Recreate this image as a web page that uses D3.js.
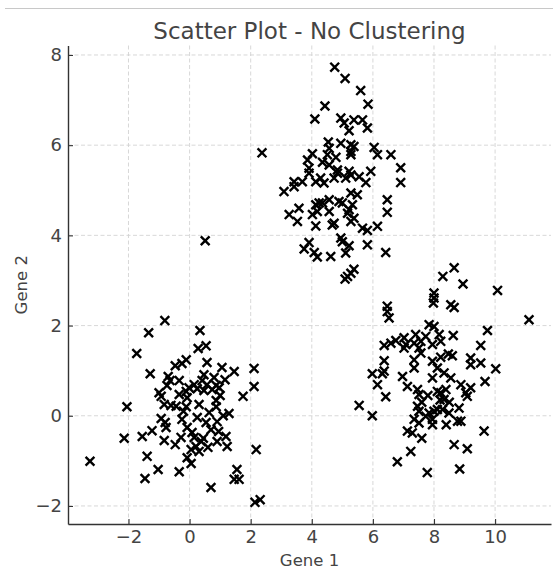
<!DOCTYPE html>
<html>
<head>
<meta charset="utf-8">
<script src="https://cdn.jsdelivr.net/npm/d3@7"></script>
<style>
  html, body { margin: 0; padding: 0; background: #ffffff; }
  svg { display: block; }
</style>
</head>
<body>
<div id="chart"></div>
<script>
// Expression samples, [gene1, gene2], grouped by the blob they fall in
const blobLowerLeft = [
  [-0.81, 2.11], [-1.34, 1.84], [-1.73, 1.38], [-1.29, 0.93], [-0.47, 1.11],
  [-0.70, 0.87], [-0.64, 0.78], [-0.74, 0.67], [-1.00, 0.51], [-0.93, 0.43],
  [-2.05, 0.20], [-0.83, 0.25], [-0.61, 0.23], [-0.44, 0.21], [0.34, 1.89],
  [0.28, 1.49], [0.54, 1.55], [-0.11, 1.24], [-0.25, 1.16], [0.57, 1.18],
  [1.06, 1.07], [1.46, 0.98], [2.11, 1.05], [-0.34, 0.78], [0.47, 0.91],
  [0.41, 0.78], [0.80, 0.85], [1.16, 0.80], [0.15, 0.69], [-0.02, 0.62],
  [-0.11, 0.54], [0.57, 0.69], [0.87, 0.67], [0.74, 0.58], [0.47, 0.56],
  [0.97, 0.62], [0.25, 0.60], [2.11, 0.65], [1.75, 0.43], [0.87, 0.34],
  [0.87, 0.20], [-0.08, 0.40], [-0.11, 0.20], [-3.26, -1.01], [-2.14, -0.50],
  [-1.55, -0.46], [-1.23, -0.33], [-0.93, -0.06], [-0.80, -0.15], [-0.77, -0.26],
  [-0.83, -0.55], [-0.47, -0.64], [-1.39, -0.90], [-1.03, -1.19], [-1.46, -1.39],
  [-0.34, -1.24], [1.29, 0.05], [0.25, -0.04], [0.54, -0.15], [0.90, -0.13],
  [-0.08, -0.26], [0.70, -0.31], [-0.28, -0.48], [0.15, -0.48], [0.38, -0.57],
  [1.19, -0.46], [0.90, -0.57], [1.23, -0.68], [0.21, -0.68], [0.05, -0.75],
  [0.31, -0.79], [2.18, -0.75], [-0.08, -0.93], [0.05, -1.06], [1.55, -1.19],
  [1.46, -1.41], [1.62, -1.41], [0.70, -1.59], [2.31, -1.86], [2.14, -1.92],
  [-0.25, -0.08], [0.31, 0.25], [0.64, 0.07], [0.08, -0.37], [-0.34, 0.47],
  [1.00, 0.45], [0.45, -0.50], [0.60, -0.70], [-0.20, 0.10], [1.10, 0.00],
  [0.95, -0.35], [0.51, 3.88], [2.37, 5.83]
];

const blobUpper = [
  [4.75, 7.73], [5.09, 7.48], [5.60, 7.21], [5.84, 6.91], [4.43, 6.87],
  [4.10, 6.58], [4.95, 6.60], [5.06, 6.49], [5.22, 6.32], [5.38, 6.56],
  [5.66, 6.56], [5.82, 6.38], [4.54, 6.07], [4.57, 5.93], [4.95, 6.04],
  [5.28, 6.01], [5.38, 5.97], [5.28, 5.86], [5.28, 5.79], [6.04, 5.95],
  [6.15, 5.79], [6.59, 5.79], [6.91, 5.50], [4.02, 5.81], [3.86, 5.67],
  [4.51, 5.79], [4.79, 5.73], [4.35, 5.62], [4.57, 5.56], [3.91, 5.49],
  [4.84, 5.45], [5.22, 5.42], [5.93, 5.42], [3.91, 5.38], [4.84, 5.38],
  [5.28, 5.34], [5.55, 5.30], [6.91, 5.17], [3.42, 5.19], [3.42, 5.08],
  [3.69, 5.19], [3.09, 4.97], [4.13, 5.19], [4.40, 5.16], [4.29, 5.27],
  [4.73, 5.27], [5.11, 5.27], [5.77, 5.17], [5.28, 4.94], [5.49, 4.90],
  [4.24, 4.72], [4.13, 4.68], [4.35, 4.72], [4.57, 4.79], [4.89, 4.75],
  [5.00, 4.72], [5.33, 4.68], [5.22, 4.57], [3.58, 4.60], [3.26, 4.46],
  [3.53, 4.31], [4.02, 4.46], [4.18, 4.53], [4.57, 4.53], [5.17, 4.49],
  [5.38, 4.38], [5.28, 4.31], [6.47, 4.79], [6.47, 4.51], [4.13, 4.21],
  [4.67, 4.23], [4.73, 4.27], [5.66, 4.16], [5.82, 4.11], [6.15, 4.20],
  [3.91, 3.84], [3.75, 3.70], [4.08, 3.62], [4.18, 3.52], [4.62, 3.53],
  [4.95, 3.94], [5.00, 3.86], [5.11, 3.61], [5.22, 3.77], [5.82, 3.79],
  [6.42, 3.62], [5.38, 3.25], [5.28, 3.16], [5.17, 3.09], [5.09, 3.03]
];

const blobRight = [
  [8.29, 3.09], [8.00, 2.72], [8.00, 2.61], [7.98, 2.50], [6.47, 2.43],
  [6.47, 2.31], [6.53, 2.17], [7.84, 2.02], [8.00, 1.98], [8.17, 1.80],
  [7.40, 1.80], [7.73, 1.76], [7.02, 1.73], [6.75, 1.67], [6.59, 1.61],
  [6.37, 1.56], [7.08, 1.58], [7.35, 1.61], [7.57, 1.65], [7.51, 1.50],
  [7.02, 1.50], [7.95, 1.58], [8.22, 1.65], [7.57, 1.39], [7.35, 1.24],
  [6.37, 1.22], [7.95, 1.21], [8.66, 3.28], [8.95, 2.92], [10.08, 2.78],
  [8.55, 2.46], [8.66, 2.40], [11.11, 2.13], [9.75, 1.89], [8.63, 1.78],
  [9.53, 1.56], [8.47, 1.37], [8.60, 1.33], [8.22, 1.30], [9.20, 1.28],
  [9.53, 1.17], [7.35, 1.06], [6.37, 0.99], [5.98, 0.93], [6.31, 0.93],
  [6.97, 0.87], [7.95, 0.84], [8.11, 1.06], [6.15, 0.69], [7.13, 0.65],
  [7.46, 0.58], [7.51, 0.47], [8.11, 0.54], [6.42, 0.42], [7.46, 0.21],
  [5.55, 0.23], [5.98, 0.00], [7.51, 0.10], [7.84, 0.06], [8.11, 0.14],
  [7.35, -0.08], [7.51, -0.16], [7.95, -0.08], [7.95, -0.20], [7.73, -0.01],
  [7.13, -0.34], [7.29, -0.38], [7.24, -0.79], [6.80, -1.02], [7.78, -1.26],
  [9.20, 1.13], [10.02, 1.04], [9.67, 0.76], [8.33, 0.95], [8.55, 0.84],
  [8.88, 0.69], [9.20, 0.62], [9.04, 0.51], [9.09, 0.43], [8.39, 0.58],
  [8.33, 0.36], [8.22, 0.51], [8.28, 0.14], [8.82, 0.17], [8.49, 0.06],
  [8.77, -0.12], [8.88, -0.12], [9.64, -0.34], [8.66, -0.64], [9.09, -0.73],
  [8.84, -1.18], [7.60, 0.30], [7.80, 0.45], [8.20, 0.35], [8.50, 0.30],
  [8.40, -0.20], [7.60, -0.50], [8.00, 0.10]
];

const xTicks = [-2, 0, 2, 4, 6, 8, 10];
const yTicks = [-2, 0, 2, 4, 6, 8];
const xDomain = [-3.98, 11.83];
const yDomain = [-2.40, 8.21];

const titleText = "Scatter Plot - No Clustering";
const xLabelText = "Gene 1";
const yLabelText = "Gene 2";

const W = 553, H = 571;
const margin = { top: 45.5, right: 2, bottom: 47, left: 68 };
const innerW = W - margin.left - margin.right;
const innerH = H - margin.top - margin.bottom;

const svg = d3.select("#chart").append("svg")
  .attr("width", W).attr("height", H)
  .style("font-family", "'DejaVu Sans', sans-serif");

// thin rule along the top of the figure
svg.append("line")
  .attr("x1", 5).attr("x2", W).attr("y1", 8.5).attr("y2", 8.5)
  .attr("stroke", "#c8c8c8").attr("stroke-width", 1.2);

const g = svg.append("g").attr("transform", `translate(${margin.left},${margin.top})`);

const x = d3.scaleLinear().domain(xDomain).range([0, innerW]);
const y = d3.scaleLinear().domain(yDomain).range([innerH, 0]);

// dashed grid
g.append("g").selectAll("line").data(xTicks).join("line")
  .attr("x1", d => x(d)).attr("x2", d => x(d))
  .attr("y1", 0).attr("y2", innerH)
  .attr("stroke", "#d4d4d4").attr("stroke-width", 0.9)
  .attr("stroke-dasharray", "4,2.5");
g.append("g").selectAll("line").data(yTicks).join("line")
  .attr("x1", 0).attr("x2", innerW)
  .attr("y1", d => y(d)).attr("y2", d => y(d))
  .attr("stroke", "#d4d4d4").attr("stroke-width", 0.9)
  .attr("stroke-dasharray", "4,2.5");

const fmt = d => d < 0 ? "\u2212" + Math.abs(d) : String(d);

// axes with inward ticks
const xAxis = g.append("g").attr("transform", `translate(0,${innerH})`)
  .call(d3.axisBottom(x).tickValues(xTicks).tickFormat(fmt)
    .tickSizeInner(-5).tickSizeOuter(0).tickPadding(6));
const yAxis = g.append("g")
  .call(d3.axisLeft(y).tickValues(yTicks).tickFormat(fmt)
    .tickSizeInner(-5).tickSizeOuter(0).tickPadding(6));

[xAxis, yAxis].forEach(ax => {
  ax.select(".domain").attr("stroke", "#333").attr("stroke-width", 1.4);
  ax.selectAll(".tick line").attr("stroke", "#333").attr("stroke-width", 1.1);
  ax.selectAll(".tick text").attr("fill", "#444").style("font-size", "18px")
    .style("font-family", "'DejaVu Sans', sans-serif");
});

// samples drawn as x markers
const points = blobLowerLeft.concat(blobUpper, blobRight);
const s = 4.4;
g.append("g").selectAll("path").data(points).join("path")
  .attr("transform", d => `translate(${x(d[0])},${y(d[1])})`)
  .attr("d", `M${-s},${-s}L${s},${s}M${-s},${s}L${s},${-s}`)
  .attr("stroke", "#000").attr("stroke-width", 2.4).attr("fill", "none");

// title and axis labels
svg.append("text")
  .attr("x", margin.left + innerW / 2).attr("y", 39)
  .attr("text-anchor", "middle").attr("fill", "#444")
  .style("font-size", "23px").text(titleText);
svg.append("text")
  .attr("x", margin.left + innerW / 2).attr("y", 566)
  .attr("text-anchor", "middle").attr("fill", "#444")
  .style("font-size", "16.5px").text(xLabelText);
svg.append("text")
  .attr("transform", `translate(27,${margin.top + innerH / 2}) rotate(-90)`)
  .attr("text-anchor", "middle").attr("fill", "#444")
  .style("font-size", "16.5px").text(yLabelText);
</script>
</body>
</html>
